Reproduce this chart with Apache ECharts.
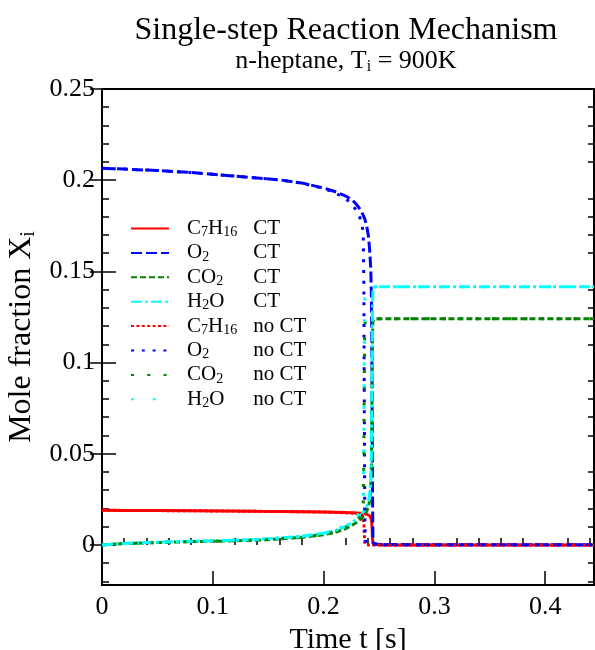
<!DOCTYPE html>
<html>
<head>
<meta charset="utf-8">
<script src="https://cdn.jsdelivr.net/npm/echarts@6/dist/echarts.min.js"></script>
<style>html,body{margin:0;padding:0;background:#fff}#chart{width:595px;height:650px}</style>
</head>
<body>
<div id="chart"></div>
<script>
// ---- data ----
const tCT = [0, 0.02, 0.05, 0.08, 0.11, 0.14, 0.16, 0.18, 0.20, 0.21, 0.22, 0.226, 0.23, 0.234, 0.237, 0.239, 0.2405, 0.2415, 0.2425, 0.2432, 0.2437, 0.2441, 0.2445, 0.2450, 0.2460, 0.25, 0.30, 0.35, 0.40, 0.444];
const c7h16CT = [0.0190, 0.0189, 0.0188, 0.0187, 0.0186, 0.0184, 0.0183, 0.0182, 0.0180, 0.0179, 0.0177, 0.0176, 0.0175, 0.0173, 0.0171, 0.0168, 0.0165, 0.0160, 0.0152, 0.0138, 0.0095, 0.0035, 0.0006, 0.0001, 0, 0, 0, 0, 0, 0];
const o2CT = [0.2065, 0.2061, 0.2053, 0.2042, 0.2027, 0.2012, 0.2002, 0.1985, 0.1957, 0.1938, 0.1913, 0.1890, 0.1865, 0.1830, 0.1790, 0.1745, 0.1690, 0.1620, 0.1520, 0.1350, 0.0900, 0.0300, 0.0040, 0.0008, 0.0003, 0.0002, 0.0001, 0.0001, 0.0001, 0.0001];
const co2CT = [0, 0.0007, 0.0013, 0.0018, 0.0021, 0.0026, 0.0033, 0.0041, 0.0056, 0.0068, 0.0089, 0.0109, 0.0124, 0.0144, 0.0166, 0.0186, 0.0210, 0.0241, 0.0306, 0.0455, 0.0831, 0.1138, 0.1225, 0.1236, 0.1238, 0.1240, 0.1240, 0.1240, 0.1240, 0.1240];
const h2oCT = [0, 0.0008, 0.0015, 0.0020, 0.0024, 0.0030, 0.0038, 0.0047, 0.0064, 0.0078, 0.0102, 0.0125, 0.0142, 0.0165, 0.0190, 0.0212, 0.0240, 0.0275, 0.0350, 0.0520, 0.0950, 0.1300, 0.1400, 0.1413, 0.1415, 0.1415, 0.1415, 0.1415, 0.1415, 0.1415];

const tNo = [0, 0.02, 0.05, 0.08, 0.11, 0.14, 0.16, 0.18, 0.20, 0.21, 0.22, 0.226, 0.23, 0.233, 0.235, 0.2358, 0.2363, 0.2367, 0.2371, 0.2376, 0.2385, 0.24, 0.25, 0.30, 0.35, 0.40, 0.444];
const c7h16No = [0.0190, 0.0189, 0.0188, 0.0187, 0.0186, 0.0184, 0.0183, 0.0182, 0.0180, 0.0178, 0.0176, 0.0174, 0.0171, 0.0167, 0.0162, 0.0155, 0.0120, 0.0060, 0.0015, 0.0003, 0.0001, 0, 0, 0, 0, 0, 0];
const o2No = [0.2065, 0.2061, 0.2053, 0.2042, 0.2027, 0.2012, 0.2002, 0.1984, 0.1954, 0.1932, 0.1898, 0.1865, 0.1830, 0.1790, 0.1745, 0.1690, 0.1400, 0.0800, 0.0200, 0.0030, 0.0005, 0.0002, 0.0001, 0.0001, 0.0001, 0.0001, 0.0001];
const co2No = [0, 0.0007, 0.0013, 0.0018, 0.0021, 0.0026, 0.0033, 0.0041, 0.0057, 0.0070, 0.0094, 0.0116, 0.0136, 0.0159, 0.0188, 0.0228, 0.0481, 0.0919, 0.1181, 0.1229, 0.1236, 0.1238, 0.1240, 0.1240, 0.1240, 0.1240, 0.1240];
const h2oNo = [0, 0.0008, 0.0015, 0.0020, 0.0024, 0.0030, 0.0038, 0.0047, 0.0065, 0.0080, 0.0107, 0.0132, 0.0155, 0.0182, 0.0215, 0.0260, 0.0550, 0.1050, 0.1350, 0.1405, 0.1413, 0.1415, 0.1415, 0.1415, 0.1415, 0.1415, 0.1415];

const xMajorTicks = [0, 0.1, 0.2, 0.3, 0.4];
const xMinorTicks = [0.02, 0.04, 0.06, 0.08, 0.12, 0.14, 0.16, 0.18, 0.22, 0.24, 0.26, 0.28, 0.32, 0.34, 0.36, 0.38, 0.42, 0.44];
const yMajorTicks = [0, 0.05, 0.1, 0.15, 0.2, 0.25];
const yMinorTicks = [-0.02, -0.01, 0.01, 0.02, 0.03, 0.04, 0.06, 0.07, 0.08, 0.09, 0.11, 0.12, 0.13, 0.14, 0.16, 0.17, 0.18, 0.19, 0.21, 0.22, 0.23, 0.24];

const speciesNames = ['C7H16', 'O2', 'CO2', 'H2O'];
const caseNames = ['CT', 'no CT'];

// ---- styling ----
const FONT = '"Liberation Serif", "Times New Roman", serif';
const colors = { C7H16: '#ff0000', O2: '#0000ff', CO2: '#008200', H2O: '#00ffff' };
const dashCT = { C7H16: 'solid', O2: [11, 4], CO2: [6, 3], H2O: [11, 3, 3, 3] };
const dashNo = { C7H16: [3, 2.4], O2: [3, 7.8], CO2: [3, 13.3], H2O: [3, 18.7] };
const pieces = {
  C7H16: [['C', 0], ['7', 1], ['H', 0], ['16', 1]],
  O2: [['O', 0], ['2', 1]],
  CO2: [['CO', 0], ['2', 1]],
  H2O: [['H', 0], ['2', 1], ['O', 0]]
};
const LEG_MAIN = 21, LEG_SUB = 14;
const meas = document.createElement('canvas').getContext('2d');
function tw(s, size) { meas.font = size + 'px ' + FONT; return meas.measureText(s).width; }

const seriesData = {
  'C7H16 CT': [tCT, c7h16CT], 'O2 CT': [tCT, o2CT], 'CO2 CT': [tCT, co2CT], 'H2O CT': [tCT, h2oCT],
  'C7H16 no CT': [tNo, c7h16No], 'O2 no CT': [tNo, o2No], 'CO2 no CT': [tNo, co2No], 'H2O no CT': [tNo, h2oNo]
};

const series = [];
caseNames.forEach(function (cs) {
  speciesNames.forEach(function (sp) {
    const name = sp + ' ' + cs;
    const tv = seriesData[name];
    series.push({
      name: name,
      type: 'line',
      xAxisIndex: 0, yAxisIndex: 0,
      symbol: 'none', showSymbol: false,
      smooth: false,
      clip: true,
      data: tv[0].map(function (t, i) { return [t, tv[1][i]]; }),
      lineStyle: {
        color: colors[sp], width: 3,
        type: cs === 'CT' ? dashCT[sp] : dashNo[sp],
        cap: 'butt'
      },
      itemStyle: { color: colors[sp] },
      emphasis: { disabled: true }
    });
  });
});

function legendLabel(name) {
  const cs = name.endsWith('no CT') ? 'no CT' : 'CT';
  const sp = name.split(' ')[0];
  let s = '{pad| }';
  let w = 0;
  pieces[sp].forEach(function (p) {
    if (p[1]) { s += '{s|' + p[0] + '}'; w += tw(p[0], LEG_SUB); }
    else { s += '{m|' + p[0] + '}'; w += tw(p[0], LEG_MAIN); }
  });
  const fill = Math.max(1, 66 - w);
  s += '{sp' + Math.round(fill) + '| }{m|' + cs + '}';
  return s;
}
const legendRich = {
  pad: { width: 13, fontSize: LEG_MAIN, lineHeight: 22, fontFamily: FONT },
  m: { fontSize: LEG_MAIN, lineHeight: 22, fontFamily: FONT, color: '#000' },
  s: { fontSize: LEG_SUB, lineHeight: 14, fontFamily: FONT, color: '#000', verticalAlign: 'bottom' }
};
for (let k = 1; k <= 70; k++) legendRich['sp' + k] = { width: k, fontSize: LEG_MAIN, lineHeight: 22, fontFamily: FONT };

function yAxisBase(extra) {
  return Object.assign({
    type: 'value', min: -0.022, max: 0.25,
    splitLine: { show: false },
    axisLine: { show: false },
    axisLabel: { show: false },
    axisTick: { show: false }
  }, extra);
}
function xAxisBase(extra) {
  return Object.assign({
    type: 'value', min: 0, max: 0.444,
    splitLine: { show: false },
    axisLine: { show: false },
    axisLabel: { show: false },
    axisTick: { show: false }
  }, extra);
}

const chart = echarts.init(document.getElementById('chart'), null, { renderer: 'canvas' });
chart.setOption({
  animation: false,
  backgroundColor: '#fff',
  title: {
    text: 'Single-step Reaction Mechanism',
    subtext: '{a|n-heptane, T}{s|i}{a| = 900K}',
    left: 341, top: 10, textAlign: 'center', itemGap: 0,
    textStyle: { fontFamily: FONT, fontSize: 32, fontWeight: 'normal', color: '#000' },
    subtextStyle: {
      fontFamily: FONT, fontSize: 26, color: '#000',
      rich: {
        a: { fontFamily: FONT, fontSize: 26, lineHeight: 28, color: '#000' },
        s: { fontFamily: FONT, fontSize: 16, lineHeight: 17, color: '#000', verticalAlign: 'bottom' }
      }
    }
  },
  legend: {
    orient: 'vertical', left: 125, top: 213,
    itemWidth: 38, itemHeight: 14, itemGap: 2.9,
    selectedMode: false,
    data: series.map(function (s) { return s.name; }),
    formatter: legendLabel,
    itemStyle: { color: 'rgba(0,0,0,0)', borderWidth: 0 },
    textStyle: { fontFamily: FONT, fontSize: LEG_MAIN, color: '#000', rich: legendRich }
  },
  grid: {
    left: 102, right: 1, top: 89, bottom: 65,
    outerBoundsMode: 'none', containLabel: false,
    show: true, borderColor: '#000', borderWidth: 2, backgroundColor: 'transparent'
  },
  xAxis: [
    xAxisBase({
      position: 'bottom',
      name: 'Time t [s]', nameLocation: 'middle', nameGap: 27,
      nameTextStyle: { fontFamily: FONT, fontSize: 30, color: '#000' },
      axisLine: { show: true, onZero: false, lineStyle: { color: '#000', width: 2 } },
      axisTick: { show: true, inside: true, length: 14, lineStyle: { color: '#000', width: 1.5 }, customValues: xMajorTicks },
      axisLabel: { show: true, margin: 9, fontFamily: FONT, fontSize: 26, color: '#000', customValues: xMajorTicks, showMaxLabel: true }
    }),
    xAxisBase({
      position: 'bottom',
      axisTick: { show: true, inside: true, length: 7, lineStyle: { color: '#000', width: 1.5 }, customValues: xMinorTicks }
    })
  ],
  yAxis: [
    yAxisBase({
      position: 'left',
      name: '{m|Mole fraction X}{s|i}', nameLocation: 'middle', nameGap: 59,
      nameTextStyle: {
        fontFamily: FONT, fontSize: 32, color: '#000',
        rich: {
          m: { fontFamily: FONT, fontSize: 32, lineHeight: 34, color: '#000' },
          s: { fontFamily: FONT, fontSize: 20, lineHeight: 20, color: '#000', verticalAlign: 'bottom' }
        }
      },
      axisLine: { show: true, onZero: false, lineStyle: { color: '#000', width: 2 } },
      axisTick: { show: true, inside: true, length: 14, lineStyle: { color: '#000', width: 1.5 }, customValues: yMajorTicks },
      axisLabel: { show: true, margin: 7, fontFamily: FONT, fontSize: 26, color: '#000', customValues: yMajorTicks }
    }),
    yAxisBase({
      position: 'left',
      axisTick: { show: true, inside: true, length: 7, lineStyle: { color: '#000', width: 1.5 }, customValues: yMinorTicks }
    }),
    yAxisBase({
      position: 'right',
      axisTick: { show: true, inside: true, length: 12, lineStyle: { color: '#000', width: 1.5 }, customValues: yMajorTicks }
    }),
    yAxisBase({
      position: 'right',
      axisTick: { show: true, inside: true, length: 6, lineStyle: { color: '#000', width: 1.5 }, customValues: yMinorTicks }
    })
  ],
  series: series
});
</script>
</body>
</html>
